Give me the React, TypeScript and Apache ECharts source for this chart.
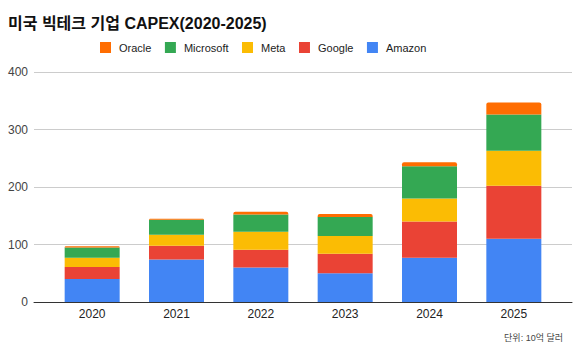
import React, { useEffect, useRef } from "react";
import * as echarts from "echarts";

const years = ["2020", "2021", "2022", "2023", "2024", "2025"];
const amazon = [40, 74, 60, 50, 77, 110];
const google = [21, 24, 31, 34, 63, 92];
const meta = [16, 19, 31, 31, 40, 61];
const microsoft = [18, 26, 30, 33, 56, 63];
const oracle = [2, 2, 5, 5, 7, 21];
const yTicks = { min: 0, max: 400, interval: 100 };

const FONT = "'Liberation Sans', Arial, 'Noto Sans CJK KR', sans-serif";

export default function App() {
  const ref = useRef<HTMLDivElement>(null);
  useEffect(() => {
    if (!ref.current) return;
    const chart = echarts.init(ref.current, null, { renderer: "svg" });
    const mk = (name: string, data: number[], color: string, top = false) => ({
      name,
      type: "bar",
      stack: "capex",
      xAxisIndex: 0,
      yAxisIndex: 0,
      barWidth: 55,
      data,
      itemStyle: { color, borderRadius: top ? [2, 2, 0, 0] : 0 },
    });
    chart.setOption({
      animation: false,
      textStyle: { fontFamily: FONT },
      title: {
        text: "미국 빅테크 기업 CAPEX(2020-2025)",
        left: 3,
        top: 10,
        textStyle: { fontSize: 16, fontWeight: "bold", color: "#111", fontFamily: FONT },
      },
      legend: {
        left: 95,
        top: 37,
        itemWidth: 11,
        itemHeight: 11,
        itemGap: 13.5,
        icon: "rect",
        textStyle: { fontSize: 11, color: "#222", fontFamily: FONT, padding: [0, 0, 0, 3] },
        data: ["Oracle", "Microsoft", "Meta", "Google", "Amazon"],
      },
      grid: [
        { left: 50, right: 22, top: 72, bottom: 49 },
        { left: 34, right: 6, top: 72, bottom: 49 },
      ],
      xAxis: [
        {
          type: "category",
          gridIndex: 0,
          data: years,
          axisLine: { show: false },
          axisTick: { show: false },
          axisLabel: { margin: 6, fontSize: 12, color: "#222", fontFamily: FONT },
        },
        {
          type: "value",
          gridIndex: 1,
          min: 0,
          max: 1,
          z: 5,
          axisLine: { show: true, lineStyle: { color: "#333", width: 1 } },
          axisTick: { show: false },
          axisLabel: { show: false },
          splitLine: { show: false },
        },
      ],
      yAxis: [
        {
          type: "value",
          gridIndex: 0,
          ...yTicks,
          show: false,
          splitLine: { show: false },
        },
        {
          type: "value",
          gridIndex: 1,
          ...yTicks,
          axisLine: { show: false },
          axisTick: { show: false },
          axisLabel: { margin: 6, fontSize: 12, color: "#444", fontFamily: FONT },
          splitLine: { lineStyle: { color: "#ccc", width: 1 } },
        },
      ],
      series: [
        mk("Amazon", amazon, "#4285F4"),
        mk("Google", google, "#EA4335"),
        mk("Meta", meta, "#FBBC04"),
        mk("Microsoft", microsoft, "#34A853"),
        mk("Oracle", oracle, "#FF6D01", true),
      ],
      graphic: [
        {
          type: "text",
          right: 15,
          top: 333,
          style: { text: "단위: 10억 달러", fontSize: 9, fill: "#444", fontFamily: FONT },
        },
      ],
    });
    return () => chart.dispose();
  }, []);
  return <div ref={ref} style={{ width: 578, height: 351, position: "absolute", left: 0, top: 0 }} />;
}
